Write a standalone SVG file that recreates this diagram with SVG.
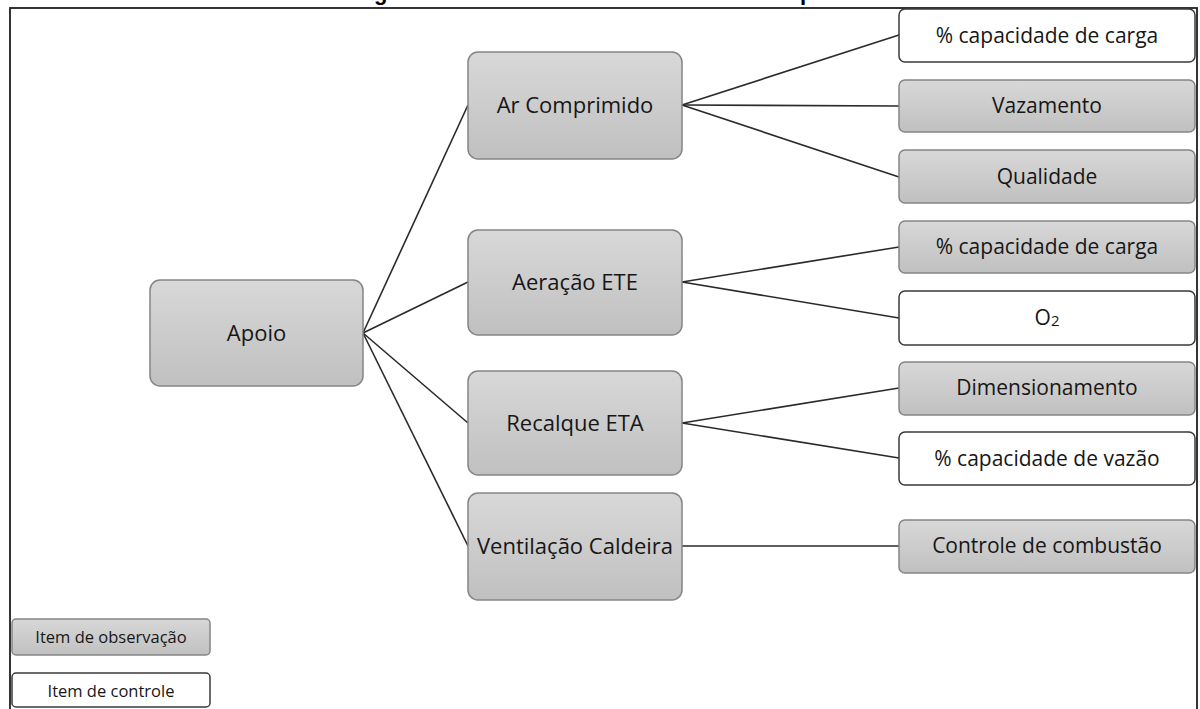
<svg xmlns="http://www.w3.org/2000/svg" width="1200" height="709" viewBox="0 0 1200 709">
  <defs>
    <linearGradient id="grayFill" x1="0" y1="0" x2="0" y2="1">
      <stop offset="0" stop-color="#d8d8d8"/>
      <stop offset="1" stop-color="#c0c0c0"/>
    </linearGradient>
    <style>
      .obs { fill: url(#grayFill); stroke: #858585; stroke-width: 1.5; }
      .ctl { fill: #ffffff; stroke: #3a3a3a; stroke-width: 1.5; }
      .lbl { font-family: "Open Sans", "Noto Sans", sans-serif; font-size: 22px; fill: #161616; text-anchor: middle; }
      .lbl-s { font-family: "Open Sans", "Noto Sans", sans-serif; font-size: 21px; fill: #161616; text-anchor: middle; }
      .leg { font-family: "Open Sans", "Noto Sans", sans-serif; font-size: 16.5px; fill: #161616; text-anchor: middle; }
      .ttl { font-family: "Liberation Sans", Arial, sans-serif; font-size: 22px; font-weight: bold; fill: #000; }
      .link { stroke: #2a2a2a; stroke-width: 1.6; fill: none; }
    </style>
  </defs>

  <rect width="1200" height="709" fill="#ffffff"/>

  <!-- title line, mostly above the top edge -->
  <text class="ttl" x="374" y="0">g</text>
  <text class="ttl" x="800" y="0">p</text>

  <!-- outer frame -->
  <rect x="10" y="8" width="1187" height="720" fill="none" stroke="#1e1e1e" stroke-width="1.8"/>

  <!-- connectors -->
  <g id="connectors">
    <line class="link" x1="363" y1="333" x2="468" y2="105"/>
    <line class="link" x1="363" y1="333" x2="468" y2="282"/>
    <line class="link" x1="363" y1="333" x2="468" y2="423"/>
    <line class="link" x1="363" y1="333" x2="468" y2="546"/>

    <line class="link" x1="682" y1="105" x2="899" y2="35"/>
    <line class="link" x1="682" y1="105" x2="899" y2="106"/>
    <line class="link" x1="682" y1="105" x2="899" y2="177"/>

    <line class="link" x1="682" y1="282" x2="899" y2="247"/>
    <line class="link" x1="682" y1="282" x2="899" y2="318"/>

    <line class="link" x1="682" y1="423" x2="899" y2="388"/>
    <line class="link" x1="682" y1="423" x2="899" y2="458"/>

    <line class="link" x1="682" y1="546" x2="899" y2="546"/>
  </g>

  <!-- root -->
  <g id="apoio">
    <rect class="obs" x="150" y="280" width="213" height="106" rx="10"/>
    <text class="lbl" x="256.5" y="341">Apoio</text>
  </g>

  <!-- second level -->
  <g id="ar-comprimido">
    <rect class="obs" x="468" y="52" width="214" height="107" rx="10"/>
    <text class="lbl" x="575" y="113">Ar Comprimido</text>
  </g>
  <g id="aeracao-ete">
    <rect class="obs" x="468" y="230" width="214" height="105" rx="10"/>
    <text class="lbl" x="575" y="290">Aeração ETE</text>
  </g>
  <g id="recalque-eta">
    <rect class="obs" x="468" y="371" width="214" height="104" rx="10"/>
    <text class="lbl" x="575" y="431">Recalque ETA</text>
  </g>
  <g id="ventilacao-caldeira">
    <rect class="obs" x="468" y="493" width="214" height="107" rx="10"/>
    <text class="lbl" x="575" y="554">Ventilação Caldeira</text>
  </g>

  <!-- third level -->
  <g id="ar-capacidade-carga">
    <rect class="ctl" x="899" y="9" width="296" height="53" rx="6"/>
    <text class="lbl-s" x="1047" y="43">% capacidade de carga</text>
  </g>
  <g id="vazamento">
    <rect class="obs" x="899" y="80" width="296" height="52" rx="6"/>
    <text class="lbl-s" x="1047" y="113">Vazamento</text>
  </g>
  <g id="qualidade">
    <rect class="obs" x="899" y="150" width="296" height="53" rx="6"/>
    <text class="lbl-s" x="1047" y="184">Qualidade</text>
  </g>
  <g id="ete-capacidade-carga">
    <rect class="obs" x="899" y="221" width="296" height="52" rx="6"/>
    <text class="lbl-s" x="1047" y="254">% capacidade de carga</text>
  </g>
  <g id="o2">
    <rect class="ctl" x="899" y="291" width="296" height="54" rx="6"/>
    <text class="lbl-s" x="1047" y="325">O<tspan font-size="15" dy="1">2</tspan></text>
  </g>
  <g id="dimensionamento">
    <rect class="obs" x="899" y="362" width="296" height="53" rx="6"/>
    <text class="lbl-s" x="1047" y="395">Dimensionamento</text>
  </g>
  <g id="capacidade-vazao">
    <rect class="ctl" x="899" y="432" width="296" height="53" rx="6"/>
    <text class="lbl-s" x="1047" y="466">% capacidade de vazão</text>
  </g>
  <g id="controle-combustao">
    <rect class="obs" x="899" y="520" width="296" height="53" rx="6"/>
    <text class="lbl-s" x="1047" y="553">Controle de combustão</text>
  </g>

  <!-- legend -->
  <g id="legenda-observacao">
    <rect class="obs" x="12" y="619" width="198" height="36" rx="4"/>
    <text class="leg" x="111" y="643">Item de observação</text>
  </g>
  <g id="legenda-controle">
    <rect class="ctl" x="12" y="673" width="198" height="34" rx="4"/>
    <text class="leg" x="111" y="697">Item de controle</text>
  </g>
</svg>
